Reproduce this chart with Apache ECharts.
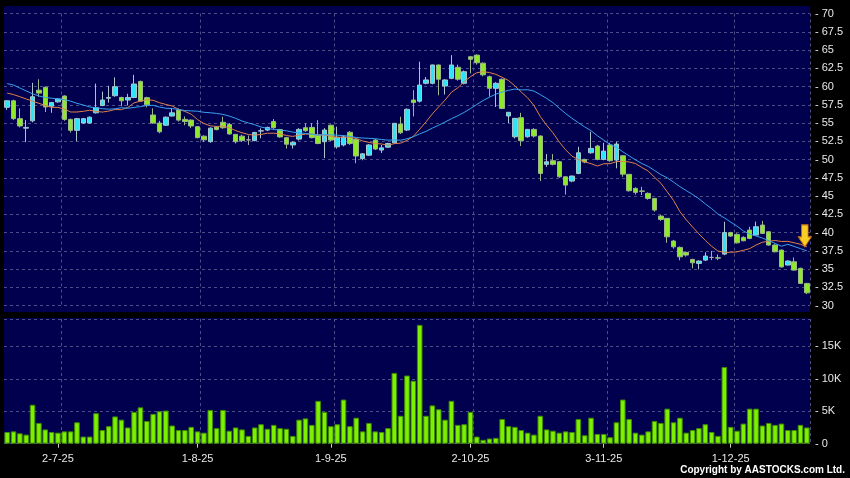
<!DOCTYPE html>
<html><head><meta charset="utf-8">
<script src="https://cdn.jsdelivr.net/npm/echarts/dist/echarts.min.js"></script>
<style>html,body{margin:0;padding:0;background:#000}#c{width:850px;height:478px}</style>
</head><body><div id="c"></div>
<script>
const categories = [
'19-6-25','20-6-25','23-6-25','24-6-25','25-6-25','26-6-25','27-6-25','30-6-25',
'2-7-25','3-7-25','4-7-25','7-7-25','8-7-25','9-7-25','10-7-25','11-7-25','14-7-25','15-7-25','16-7-25','17-7-25','18-7-25','21-7-25','22-7-25','23-7-25','24-7-25','25-7-25','28-7-25','29-7-25','30-7-25','31-7-25',
'1-8-25','4-8-25','5-8-25','6-8-25','7-8-25','8-8-25','11-8-25','12-8-25','13-8-25','14-8-25','15-8-25','18-8-25','19-8-25','20-8-25','21-8-25','22-8-25','25-8-25','26-8-25','27-8-25','28-8-25','29-8-25',
'1-9-25','2-9-25','3-9-25','4-9-25','5-9-25','8-9-25','9-9-25','10-9-25','11-9-25','12-9-25','15-9-25','16-9-25','17-9-25','18-9-25','19-9-25','22-9-25','23-9-25','24-9-25','25-9-25','26-9-25','29-9-25','30-9-25',
'2-10-25','3-10-25','6-10-25','7-10-25','8-10-25','9-10-25','10-10-25','13-10-25','14-10-25','15-10-25','16-10-25','17-10-25','20-10-25','21-10-25','22-10-25','23-10-25','24-10-25','27-10-25','28-10-25','30-10-25','31-10-25',
'3-11-25','4-11-25','5-11-25','6-11-25','7-11-25','10-11-25','11-11-25','12-11-25','13-11-25','14-11-25','17-11-25','18-11-25','19-11-25','20-11-25','21-11-25','24-11-25','25-11-25','26-11-25','27-11-25','28-11-25',
'1-12-25','2-12-25','3-12-25','4-12-25','5-12-25','8-12-25','9-12-25','10-12-25','11-12-25','12-12-25','15-12-25','16-12-25','17-12-25'
];
const dateLabels = ['2-7-25','1-8-25','1-9-25','2-10-25','3-11-25','1-12-25'];

const openP = [57.15,58.05,55.6,54.3,55.3,59.5,59.9,57.3,57.9,58.7,
55.5,54.0,55.0,55.0,56.4,57.4,58.4,58.74,58.5,58.15,
58.5,60.7,58.47,56.1,55.0,54.7,55.96,56.8,55.5,55.4,
54.5,53.2,52.45,54.45,55.1,54.8,53.45,53.2,52.7,52.6,
53.9,54.04,55.2,54.1,53.0,52.0,52.8,54.36,54.4,53.36,
52.44,54.7,51.75,52.0,53.73,52.77,50.14,50.6,52.67,51.3,
51.7,52.3,54.86,54.04,58.15,58.0,60.44,60.44,62.95,60.07,
61.12,62.63,60.44,64.08,64.3,63.2,61.34,59.75,61.0,55.96,
53.12,55.73,53.12,54.13,53.22,49.34,49.84,49.7,47.64,47.05,
48.1,50.02,50.93,51.85,50.02,52.0,49.93,50.52,47.97,46.05,
45.7,45.37,44.68,42.26,41.95,38.84,37.97,37.29,36.33,35.78,
36.23,36.6,36.55,37.05,40.0,39.75,39.34,40.34,39.66,41.03,
40.11,38.29,37.6,35.55,36.0,35.1,33.04];
const closeP = [58.05,55.6,54.6,54.4,58.6,59.1,57.2,57.8,58.3,55.5,
54.0,55.6,55.6,55.8,57.1,58.15,58.5,59.97,58.05,58.5,
60.34,58.0,57.5,55.0,53.8,55.8,56.4,55.4,55.2,54.6,
53.0,52.7,54.3,54.1,54.36,53.5,52.44,52.6,52.7,53.7,
53.95,54.4,54.36,53.1,52.1,52.35,54.13,53.95,53.0,52.2,
54.04,52.67,53.04,53.1,52.2,50.48,50.78,52.0,51.44,51.6,
52.2,54.96,53.67,56.88,57.8,60.2,60.9,62.95,61.0,60.9,
62.95,61.0,62.03,63.72,63.26,61.6,59.75,60.44,57.0,56.47,
55.64,52.58,54.13,53.22,48.1,49.7,49.34,47.64,46.5,47.74,
50.93,49.66,51.53,50.02,51.16,49.84,52.12,48.0,45.73,45.5,
45.65,44.68,43.08,41.8,39.42,38.05,36.68,36.92,35.86,36.1,
36.78,36.6,36.5,40.0,39.52,38.6,38.88,39.2,40.8,39.89,
38.29,37.37,35.3,36.1,34.86,33.04,31.75];
const lowP = [56.8,55.4,54.4,52.4,55.1,58.6,56.5,56.4,57.8,55.3,
53.7,52.5,54.9,54.9,56.3,57.3,57.8,58.6,57.3,57.4,
58.4,57.9,57.15,54.9,53.6,54.6,55.9,55.2,54.7,54.3,
52.9,52.4,52.3,54.0,54.2,53.4,52.2,52.4,52.0,52.5,
52.9,53.9,54.2,53.0,51.5,51.5,52.6,53.8,52.9,52.1,
50.2,52.5,51.5,51.8,52.0,49.5,49.9,50.5,51.3,50.9,
51.6,52.2,53.5,53.9,55.9,57.8,60.3,60.3,58.8,58.9,
61.0,60.8,60.3,61.8,63.0,61.4,58.6,57.2,56.9,55.0,
52.9,51.85,53.0,53.0,47.05,49.0,49.2,47.5,45.2,46.9,
48.0,49.5,50.8,49.9,49.9,49.7,48.8,47.64,45.6,45.2,
45.14,44.5,42.85,41.6,38.6,37.8,36.2,36.7,35.1,34.96,
36.1,36.23,36.23,36.9,39.4,38.5,38.8,39.1,39.6,39.8,
38.2,37.3,35.2,35.5,34.8,33.0,31.58];
const highP = [58.1,58.2,57.0,55.4,60.5,61.0,60.0,57.9,58.4,58.8,
55.6,55.7,55.7,55.9,60.4,59.3,60.1,61.26,58.6,59.0,
61.6,60.8,58.6,57.0,55.3,55.9,57.0,57.0,55.9,55.5,
54.6,53.3,54.4,54.6,55.86,55.0,53.5,53.4,53.3,53.8,
54.27,54.5,55.55,54.2,53.1,52.5,54.3,54.96,55.0,55.4,
54.3,54.8,54.5,53.3,53.9,52.9,50.9,52.1,52.8,52.0,
52.3,55.0,55.86,57.0,59.5,63.4,61.3,63.0,63.0,61.0,
64.3,63.0,62.2,64.2,64.4,63.3,61.5,60.6,61.1,56.5,
55.7,56.4,54.2,54.3,53.3,50.75,50.75,49.8,47.7,47.8,
51.75,50.1,53.8,52.0,52.3,52.3,52.44,50.6,48.0,46.2,
46.27,45.5,44.7,42.4,42.0,39.0,38.1,37.4,36.4,36.2,
37.3,37.5,37.0,41.48,40.1,39.9,39.5,40.8,41.5,41.6,
40.2,38.4,37.7,36.2,36.6,35.2,33.1];
const volumeK = [1.8,1.9,1.6,1.4,6.0,3.2,2.2,1.8,1.7,1.9,
1.9,3.3,1.1,1.1,4.7,2.1,2.7,4.2,3.7,2.5,
4.9,5.6,3.5,4.6,5.0,5.1,2.8,2.1,2.1,2.6,
1.9,1.7,5.2,2.4,5.2,2.0,2.5,2.2,1.2,2.5,
3.0,2.3,2.9,2.4,2.3,1.2,3.7,3.9,2.9,6.6,
4.9,2.7,3.0,6.8,2.7,4.0,1.9,3.2,1.9,1.8,
2.4,10.9,4.3,10.5,9.7,18.3,4.3,5.9,5.3,3.7,
6.6,2.9,3.0,4.9,1.1,0.6,0.8,0.9,3.8,2.7,
2.6,2.1,1.7,1.4,4.3,2.2,2.0,1.7,1.9,1.8,
3.8,1.3,4.0,1.5,1.5,1.0,3.3,6.8,3.8,1.7,
1.4,1.9,3.5,3.2,5.4,3.3,4.0,1.7,2.1,2.4,
3.0,1.8,1.2,11.8,2.6,2.0,3.1,5.4,5.4,2.8,
3.2,2.9,3.1,2.1,2.1,2.9,2.5];
// moving-average values read from the picture where the averaging window is not covered by the bars above
const ma10Lead = [59.1,58.9,58.6,58.3,58.0,57.7,57.4,57.15,57.15];
const ma20Lead = [60.4,60.2,59.8,59.4,59.0,58.7,58.5,58.4,58.3,58.2,58.0,57.7,57.47,57.2,57.1,56.96,56.9,56.95,57.1];
const ma10Tail = [38.8,38.6,38.4,38.05];   // last 4 bars, as drawn
const ma20Tail = [38.4,38.1,37.8,37.5];
const arrowAt = {index: 126, price: 39.55};

function movingAvg(n, lead, tail) {
  const len = closeP.length;
  return closeP.map((c, i) => {
    if (i < n - 1) return lead[i];
    if (i >= len - tail.length) return tail[i - (len - tail.length)];
    let s = 0;
    for (let k = i - n + 1; k <= i; k++) s += closeP[k];
    return +(s / n).toFixed(3);
  });
}
const ma10 = movingAvg(10, ma10Lead, ma10Tail);
const ma20 = movingAvg(20, ma20Lead, ma20Tail);
const candleData = openP.map((o, i) => [o, closeP[i], lowP[i], highP[i]]);
const labelIdx = dateLabels.map(d => categories.indexOf(d));
const gridLineIdx = labelIdx.map(i => i + 1);

const FONT = 'Liberation Sans, Arial, sans-serif';
const gridLine = {show: true, lineStyle: {color: '#4c4c86', type: [3, 3], width: 1}};
const chart = echarts.init(document.getElementById('c'), null, {renderer: 'canvas'});
chart.setOption({
  animation: false,
  backgroundColor: '#000000',
  graphic: [
    {type: 'rect', z: -10, shape: {x: 4, y: 6, width: 806, height: 306}, style: {fill: '#00004e'}},
    {type: 'rect', z: -10, shape: {x: 4, y: 318, width: 806, height: 126}, style: {fill: '#00004e'}},
    {type: 'text', right: 5, top: 465, style: {text: 'Copyright by AASTOCKS.com Ltd.', fill: '#ffffff', font: 'bold 10px ' + FONT}}
  ],
  grid: [
    {left: 4, width: 806, top: 13.5, height: 292.1, outerBoundsMode: 'none'},
    {left: 4, width: 806, top: 319, height: 124.7, outerBoundsMode: 'none'}
  ],
  xAxis: [
    {type: 'category', gridIndex: 0, data: categories, boundaryGap: true,
     axisLine: {show: false}, axisTick: {show: false}, axisLabel: {show: false},
     splitLine: Object.assign({interval: (i) => gridLineIdx.includes(i)}, gridLine)},
    {type: 'category', gridIndex: 1, data: categories, boundaryGap: true,
     axisLine: {show: false},
     axisTick: {show: true, alignWithLabel: true, length: 4, interval: (i) => labelIdx.includes(i), lineStyle: {color: '#cccccc'}},
     axisLabel: {show: true, interval: (i) => labelIdx.includes(i), color: '#e8e8e8', fontSize: 11, fontFamily: FONT, margin: 10},
     splitLine: Object.assign({interval: (i) => gridLineIdx.includes(i)}, gridLine)}
  ],
  yAxis: [
    {type: 'value', gridIndex: 0, position: 'right', min: 30, max: 70, interval: 2.5,
     axisLine: {show: false}, axisTick: {show: false},
     axisLabel: {color: '#e8e8e8', fontSize: 11, fontFamily: FONT, margin: 5, formatter: (v) => '- ' + v},
     splitLine: gridLine},
    {type: 'value', gridIndex: 1, position: 'right', min: 0, max: 19.2, interval: 5,
     axisLine: {show: false}, axisTick: {show: false},
     axisLabel: {color: '#e8e8e8', fontSize: 11, fontFamily: FONT, margin: 5, showMaxLabel: false,
       formatter: (v) => v === 0 ? '- 0' : (Math.abs(v % 5) < 1e-9 ? '- ' + v + 'K' : '')},
     splitLine: gridLine}
  ],
  series: [
    {type: 'candlestick', xAxisIndex: 0, yAxisIndex: 0, data: candleData, barWidth: 5,
     itemStyle: {color: '#30e4f8', color0: '#8eea26', borderColor: '#a9c6cc', borderColor0: '#9ab88a', borderColorDoji: '#aaaaaa', borderWidth: 1},
     markPoint: {silent: true, label: {show: false},
       data: [{coord: [arrowAt.index, arrowAt.price], symbol: 'path://M3,0 L9,0 L9,12 L12,12 L6,22 L0,12 L3,12 Z', symbolSize: [13, 22], symbolOffset: [-2, 0],
         itemStyle: {color: '#f8cc24', borderColor: '#c07010', borderWidth: 1}}]}},
    {type: 'line', xAxisIndex: 0, yAxisIndex: 0, data: ma10, symbol: 'none', z: 5, silent: true,
     lineStyle: {color: '#e0824a', width: 1}},
    {type: 'line', xAxisIndex: 0, yAxisIndex: 0, data: ma20, symbol: 'none', z: 5, silent: true,
     lineStyle: {color: '#3aa2ee', width: 1}},
    {type: 'bar', xAxisIndex: 1, yAxisIndex: 1, data: volumeK, barWidth: '88%',
     itemStyle: {color: '#7cf000', borderColor: '#3f8a00', borderWidth: 1}}
  ]
});
</script></body></html>
